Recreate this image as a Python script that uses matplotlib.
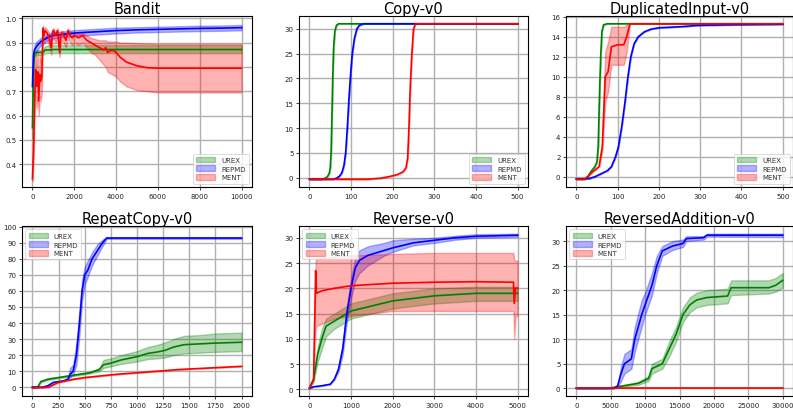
import matplotlib
matplotlib.use("Agg")
import matplotlib.pyplot as plt
import numpy as np

# ---------------- Bandit ----------------
bandit_x = [0, 50, 100, 200, 300, 400, 500, 600, 800, 1000, 1500, 2000, 3000, 4000, 5000, 6000, 7000, 8000, 9000, 10000]
bandit_urex = [0.55, 0.80, 0.855, 0.86, 0.86, 0.86, 0.86, 0.87, 0.87, 0.872, 0.872, 0.872, 0.872, 0.872, 0.872, 0.872, 0.872, 0.872, 0.872, 0.872]
bandit_urex_lo = [0.50, 0.75, 0.845, 0.85, 0.85, 0.85, 0.85, 0.857, 0.857, 0.857, 0.857, 0.857, 0.857, 0.857, 0.857, 0.857, 0.857, 0.857, 0.857, 0.857]
bandit_urex_hi = [0.60, 0.85, 0.866, 0.87, 0.87, 0.87, 0.87, 0.885, 0.89, 0.89, 0.89, 0.89, 0.89, 0.89, 0.89, 0.89, 0.89, 0.89, 0.89, 0.89]
bandit_repmd = [0.72, 0.85, 0.87, 0.885, 0.895, 0.905, 0.91, 0.915, 0.925, 0.93, 0.935, 0.94, 0.945, 0.95, 0.953, 0.955, 0.957, 0.959, 0.96, 0.962]
bandit_repmd_lo = [0.68, 0.83, 0.85, 0.865, 0.878, 0.89, 0.895, 0.902, 0.912, 0.918, 0.923, 0.928, 0.933, 0.938, 0.942, 0.944, 0.946, 0.948, 0.949, 0.951]
bandit_repmd_hi = [0.76, 0.87, 0.89, 0.905, 0.912, 0.92, 0.925, 0.928, 0.938, 0.942, 0.947, 0.952, 0.957, 0.962, 0.964, 0.966, 0.968, 0.97, 0.971, 0.973]
bandit_ment_x = [0, 50, 100, 150, 200, 250, 300, 350, 400, 450, 500, 550, 600, 700, 800, 900, 950, 1000, 1100, 1200, 1300, 1350, 1400, 1500, 1600, 1700, 1800, 1900, 2000, 2200, 2400, 2600, 2800, 3000, 3200, 3400, 3500, 3600, 3800, 4000, 4200, 4500, 5000, 5500, 6000, 7000, 8000, 9000, 10000]
bandit_ment = [0.34, 0.45, 0.65, 0.79, 0.72, 0.78, 0.66, 0.77, 0.74, 0.76, 0.96, 0.93, 0.95, 0.94, 0.92, 0.88, 0.94, 0.95, 0.93, 0.95, 0.86, 0.93, 0.94, 0.93, 0.91, 0.95, 0.93, 0.92, 0.93, 0.92, 0.93, 0.91, 0.90, 0.89, 0.88, 0.87, 0.88, 0.86, 0.87, 0.86, 0.84, 0.82, 0.805, 0.797, 0.795, 0.795, 0.795, 0.795, 0.795]
bandit_ment_lo = [0.33, 0.40, 0.58, 0.70, 0.63, 0.68, 0.60, 0.68, 0.66, 0.70, 0.93, 0.90, 0.92, 0.91, 0.89, 0.85, 0.91, 0.92, 0.90, 0.92, 0.84, 0.90, 0.91, 0.90, 0.88, 0.92, 0.90, 0.89, 0.90, 0.89, 0.90, 0.88, 0.86, 0.85, 0.83, 0.81, 0.80, 0.78, 0.77, 0.76, 0.74, 0.72, 0.705, 0.70, 0.695, 0.695, 0.695, 0.695, 0.695]
bandit_ment_hi = [0.35, 0.50, 0.72, 0.86, 0.80, 0.86, 0.74, 0.85, 0.82, 0.82, 0.97, 0.95, 0.965, 0.955, 0.94, 0.92, 0.955, 0.96, 0.945, 0.96, 0.90, 0.945, 0.95, 0.945, 0.93, 0.96, 0.945, 0.935, 0.945, 0.935, 0.94, 0.93, 0.92, 0.915, 0.91, 0.91, 0.91, 0.905, 0.905, 0.905, 0.90, 0.90, 0.898, 0.896, 0.895, 0.895, 0.895, 0.895, 0.895]

# ---------------- Copy-v0 ----------------
copy_urex_x = [0, 30, 38, 44, 48, 50, 52, 54, 56, 58, 61, 65, 70, 500]
copy_urex = [-0.3, -0.3, -0.1, 0.3, 1.0, 2.0, 5.0, 12.0, 20.0, 26.0, 29.5, 30.7, 31.0, 31.0]
copy_repmd_x = [0, 55, 65, 72, 78, 83, 87, 91, 95, 99, 103, 108, 114, 120, 130, 500]
copy_repmd = [-0.3, -0.3, -0.1, 0.3, 1.0, 2.5, 5.0, 10.0, 16.0, 21.0, 25.0, 28.0, 30.0, 30.7, 31.0, 31.0]
copy_ment_x = [0, 140, 170, 190, 210, 225, 232, 236, 239, 242, 246, 250, 255, 500]
copy_ment = [-0.3, -0.3, -0.1, 0.2, 0.6, 1.2, 2.0, 4.0, 10.0, 18.0, 25.0, 30.0, 31.0, 31.0]

# ---------------- DuplicatedInput-v0 ----------------
dup_urex_x = [0, 20, 28, 35, 45, 50, 53, 56, 59, 62, 66, 75, 500]
dup_urex = [-0.25, -0.25, 0.0, 0.5, 1.0, 1.5, 3.0, 8.0, 12.0, 14.5, 15.2, 15.3, 15.3]
dup_ment_x = [0, 20, 40, 55, 63, 70, 77, 85, 100, 115, 122, 130, 500]
dup_ment = [-0.25, -0.25, 0.5, 1.0, 3.0, 10.0, 10.5, 13.0, 13.2, 13.2, 14.0, 15.3, 15.3]
dup_ment_lo = [-0.25, -0.25, 0.5, 1.0, 2.5, 7.5, 8.5, 11.2, 11.2, 11.2, 12.5, 15.3, 15.3]
dup_ment_hi = [-0.25, -0.25, 0.5, 1.0, 3.5, 12.5, 13.5, 15.0, 15.0, 15.0, 15.2, 15.3, 15.3]
dup_repmd_x = [0, 30, 45, 60, 75, 85, 95, 102, 110, 118, 125, 132, 140, 150, 165, 180, 200, 250, 300, 500]
dup_repmd = [-0.2, -0.2, 0.0, 0.3, 0.6, 1.0, 2.0, 3.0, 5.0, 7.5, 10.0, 12.0, 13.3, 14.0, 14.5, 14.75, 14.9, 15.0, 15.15, 15.25]

# ---------------- RepeatCopy-v0 ----------------
rc_repmd_x = [0, 100, 150, 200, 300, 340, 360, 390, 420, 450, 475, 500, 530, 570, 620, 670, 710, 2000]
rc_repmd = [0.0, 0.0, 1.0, 3.0, 4.0, 5.0, 8.0, 10.0, 20.0, 40.0, 60.0, 70.0, 73.0, 80.0, 85.0, 90.0, 93.0, 93.0]
rc_repmd_lo = [0.0, 0.0, 1.0, 3.0, 4.0, 5.0, 6.0, 8.0, 14.0, 33.0, 54.0, 64.0, 69.0, 76.0, 82.0, 88.0, 92.5, 92.5]
rc_repmd_hi = [0.0, 0.0, 1.0, 3.0, 4.0, 6.0, 12.0, 14.0, 27.0, 48.0, 67.0, 75.0, 79.0, 84.0, 89.0, 92.0, 93.5, 93.5]
rc_urex_x = [0, 50, 80, 150, 250, 350, 450, 550, 640, 680, 750, 850, 1000, 1100, 1200, 1270, 1350, 1450, 1600, 1750, 2000]
rc_urex = [0.0, 0.0, 3.5, 5.0, 6.0, 7.0, 8.0, 9.0, 11.0, 14.0, 15.0, 17.0, 19.0, 21.0, 22.0, 23.0, 25.0, 26.5, 27.0, 27.5, 28.0]
rc_urex_lo = [0.0, 0.0, 3.0, 4.5, 5.5, 6.5, 7.5, 8.5, 10.0, 12.0, 13.0, 14.5, 16.0, 17.5, 18.0, 18.5, 20.0, 21.0, 21.5, 22.0, 22.5]
rc_urex_hi = [0.0, 0.0, 4.0, 5.5, 6.5, 7.5, 8.5, 9.5, 12.0, 17.0, 18.0, 20.0, 22.5, 25.0, 26.5, 28.0, 30.0, 32.0, 32.5, 33.5, 34.0]
rc_ment_x = [0, 150, 250, 400, 500, 650, 800, 1000, 1200, 1400, 1700, 2000]
rc_ment = [-0.5, 0.0, 3.0, 5.0, 6.0, 7.0, 8.0, 9.0, 10.0, 11.0, 12.0, 13.0]

# ---------------- Reverse-v0 ----------------
rev_repmd_x = [0, 100, 300, 500, 600, 700, 800, 900, 1000, 1100, 1200, 1400, 1800, 2000, 2500, 3000, 3500, 4000, 5000]
rev_repmd = [0.2, 0.5, 0.7, 1.0, 2.0, 4.0, 8.0, 15.0, 20.0, 24.0, 25.5, 26.5, 27.5, 28.0, 29.0, 29.5, 30.0, 30.3, 30.5]
rev_repmd_lo = [0.2, 0.5, 0.7, 1.0, 2.0, 3.5, 7.0, 13.5, 18.0, 21.5, 23.0, 24.5, 26.5, 27.2, 28.5, 29.0, 29.6, 30.0, 30.2]
rev_repmd_hi = [0.2, 0.5, 0.7, 1.0, 2.0, 4.5, 9.0, 16.5, 22.0, 26.0, 27.5, 28.3, 29.0, 29.5, 29.8, 30.0, 30.4, 30.7, 30.8]
rev_urex_x = [0, 100, 200, 300, 400, 600, 800, 1000, 1500, 2000, 2500, 3000, 4000, 5000]
rev_urex = [0.2, 2.0, 7.0, 10.0, 12.5, 13.5, 14.5, 15.5, 16.5, 17.5, 18.0, 18.5, 19.0, 19.0]
rev_urex_lo = [0.2, 1.5, 5.5, 8.0, 10.5, 12.0, 13.0, 14.0, 15.0, 16.0, 16.5, 17.0, 17.5, 17.5]
rev_urex_hi = [0.2, 2.5, 8.5, 12.0, 14.0, 15.0, 16.0, 17.0, 18.0, 19.0, 19.5, 20.0, 20.3, 20.3]
rev_ment_x = [0, 100, 150, 170, 300, 600, 1000, 2000, 3000, 4000, 4900, 4920, 4950, 5000]
rev_ment = [0.2, 2.0, 23.5, 19.0, 19.5, 20.0, 20.5, 21.0, 21.2, 21.3, 21.2, 17.0, 20.0, 20.0]
rev_ment_lo = [0.2, 2.0, 12.0, 12.5, 13.0, 14.0, 14.5, 15.5, 15.5, 15.5, 15.5, 10.0, 14.5, 14.5]
rev_ment_hi = [0.2, 2.0, 25.5, 25.7, 26.0, 26.3, 26.5, 26.8, 27.0, 27.0, 27.0, 25.5, 25.5, 25.5]

# ---------------- ReversedAddition-v0 ----------------
ra_repmd_x = [0, 5500, 6000, 6500, 7000, 8000, 8500, 9500, 10000, 11000, 11700, 12500, 14000, 15500, 16000, 18500, 19000, 30000]
ra_repmd = [0.0, 0.0, 0.5, 3.0, 5.0, 6.0, 10.0, 15.0, 17.0, 21.0, 25.0, 28.0, 29.0, 29.5, 30.5, 30.7, 31.2, 31.2]
ra_repmd_lo = [0.0, 0.0, 0.3, 1.5, 3.0, 4.0, 7.5, 12.5, 15.0, 19.0, 23.5, 27.0, 28.2, 28.8, 30.0, 30.3, 30.9, 30.8]
ra_repmd_hi = [0.0, 0.0, 0.7, 4.5, 7.0, 8.0, 12.5, 18.0, 19.5, 23.5, 27.0, 29.0, 30.0, 30.3, 31.0, 31.0, 31.5, 31.5]
ra_urex_x = [0, 4500, 6000, 9000, 10500, 11000, 12500, 13500, 14500, 15500, 16500, 17500, 19000, 22000, 22500, 28000, 29000, 30000]
ra_urex = [0.0, 0.0, 0.3, 1.0, 2.0, 4.0, 5.0, 8.0, 11.0, 15.0, 17.0, 18.0, 18.5, 18.8, 20.5, 20.5, 21.0, 22.0]
ra_urex_lo = [0.0, 0.0, 0.2, 0.7, 1.5, 3.0, 4.0, 6.5, 9.5, 13.5, 15.5, 16.5, 17.0, 17.3, 19.0, 19.3, 19.7, 20.5]
ra_urex_hi = [0.0, 0.0, 0.4, 1.3, 2.5, 5.0, 6.0, 9.5, 12.5, 16.5, 18.5, 19.5, 20.0, 20.3, 22.0, 22.0, 22.5, 23.5]
ra_ment_x = [0, 30000]
ra_ment = [0.0, 0.0]

titles = ["Bandit", "Copy-v0", "DuplicatedInput-v0", "RepeatCopy-v0", "Reverse-v0", "ReversedAddition-v0"]
labels = ["UREX", "REPMD", "MENT"]
colors = ["green", "blue", "red"]

fig = plt.figure(figsize=(7.93, 4.10), dpi=100)
lefts = [22, 299, 566]
rights = [252, 528, 793]
tops = [17, 227]
bottoms = [188, 397]
W, H = 793.0, 410.0
axes = []
for r in range(2):
    for c in range(3):
        ax = fig.add_axes([lefts[c] / W, 1 - bottoms[r] / H, (rights[c] - lefts[c]) / W, (bottoms[r] - tops[r]) / H])
        axes.append(ax)

def band(ax, x, y, lo, hi, color, label):
    ax.fill_between(x, lo, hi, color=color, alpha=0.3, label=label, linewidth=1)
    ax.plot(x, y, color=color, linewidth=1.2)

def line(ax, x, y, color, label):
    ax.fill_between(x, y, y, color=color, alpha=0.3, label=label, linewidth=1)
    ax.plot(x, y, color=color, linewidth=1.2)

leg_kw = dict(fontsize=5, handlelength=2.8, handleheight=0.9, labelspacing=0.35,
              borderpad=0.45, handletextpad=0.8, borderaxespad=0.5, fancybox=True)

# Bandit
ax = axes[0]
band(ax, bandit_x, bandit_urex, bandit_urex_lo, bandit_urex_hi, "green", "UREX")
band(ax, bandit_x, bandit_repmd, bandit_repmd_lo, bandit_repmd_hi, "blue", "REPMD")
band(ax, bandit_ment_x, bandit_ment, bandit_ment_lo, bandit_ment_hi, "red", "MENT")
ax.set_ylim(0.306, 1.01)
ax.legend(loc="lower right", **leg_kw)

# Copy
ax = axes[1]
line(ax, copy_urex_x, copy_urex, "green", "UREX")
line(ax, copy_repmd_x, copy_repmd, "blue", "REPMD")
line(ax, copy_ment_x, copy_ment, "red", "MENT")
ax.legend(loc="lower right", **leg_kw)

# DuplicatedInput
ax = axes[2]
line(ax, dup_urex_x, dup_urex, "green", "UREX")
line(ax, dup_repmd_x, dup_repmd, "blue", "REPMD")
band(ax, dup_ment_x, dup_ment, dup_ment_lo, dup_ment_hi, "red", "MENT")
ax.set_xlim(-25, 525)
ax.legend(loc="lower right", **leg_kw)

# RepeatCopy
ax = axes[3]
band(ax, rc_urex_x, rc_urex, rc_urex_lo, rc_urex_hi, "green", "UREX")
band(ax, rc_repmd_x, rc_repmd, rc_repmd_lo, rc_repmd_hi, "blue", "REPMD")
line(ax, rc_ment_x, rc_ment, "red", "MENT")
ax.set_ylim(-5.5, 100.5)
ax.set_yticks(np.arange(0, 101, 10))
ax.legend(loc="upper left", **leg_kw)

# Reverse
ax = axes[4]
band(ax, rev_urex_x, rev_urex, rev_urex_lo, rev_urex_hi, "green", "UREX")
band(ax, rev_repmd_x, rev_repmd, rev_repmd_lo, rev_repmd_hi, "blue", "REPMD")
band(ax, rev_ment_x, rev_ment, rev_ment_lo, rev_ment_hi, "red", "MENT")
ax.legend(loc="upper left", **leg_kw)

# ReversedAddition
ax = axes[5]
band(ax, ra_urex_x, ra_urex, ra_urex_lo, ra_urex_hi, "green", "UREX")
band(ax, ra_repmd_x, ra_repmd, ra_repmd_lo, ra_repmd_hi, "blue", "REPMD")
line(ax, ra_ment_x, ra_ment, "red", "MENT")
ax.set_xlim(-1500, 31500)
ax.legend(loc="upper left", **leg_kw)

for ax, t in zip(axes, titles):
    ax.set_title(t, fontsize=10.5, pad=2)
    ax.grid(True, color="#b0b0b0", linewidth=1.0)
    ax.set_axisbelow(True)
    ax.tick_params(labelsize=5, length=2.5, width=0.6, pad=1.5, colors="#222222")
    for s in ax.spines.values():
        s.set_linewidth(0.8)
    leg = ax.get_legend()
    for txt in leg.get_texts():
        txt.set_color("#333333")
    leg.get_frame().set_linewidth(0.6)

fig.savefig("out.png", dpi=100)
